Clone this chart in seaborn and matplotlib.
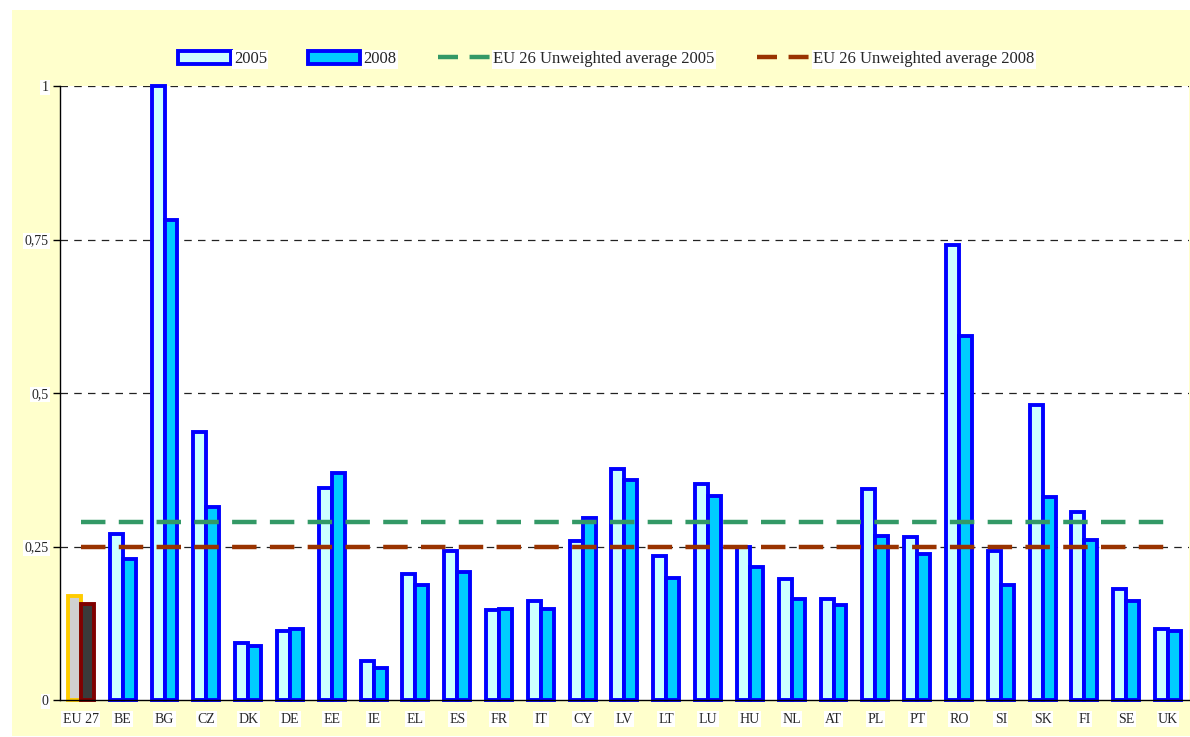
import pandas as pd
import numpy as np
import matplotlib
matplotlib.use("Agg")
import matplotlib.pyplot as plt
from matplotlib.patches import Patch, Rectangle
from matplotlib.lines import Line2D
from matplotlib.ticker import FixedLocator, FuncFormatter
import seaborn as sns

# data
countries = ["EU 27", "BE", "BG", "CZ", "DK", "DE", "EE", "IE", "EL", "ES", "FR", "IT", "CY",
             "LV", "LT", "LU", "HU", "NL", "AT", "PL", "PT", "RO", "SI", "SK", "FI", "SE", "UK"]
v2005 = [0.169, 0.270, 1.000, 0.436, 0.093, 0.113, 0.345, 0.063, 0.206, 0.243, 0.147, 0.161, 0.259,
         0.377, 0.234, 0.352, 0.250, 0.197, 0.165, 0.343, 0.266, 0.741, 0.243, 0.480, 0.306, 0.180, 0.116]
v2008 = [0.156, 0.230, 0.781, 0.314, 0.088, 0.115, 0.369, 0.052, 0.188, 0.208, 0.148, 0.148, 0.297,
         0.359, 0.198, 0.333, 0.217, 0.164, 0.154, 0.267, 0.237, 0.593, 0.188, 0.330, 0.260, 0.162, 0.113]
years = ["2005", "2008"]
avg_2005 = 0.290
avg_2008 = 0.249
y_ticks = [0, 0.25, 0.5, 0.75, 1]

df = pd.DataFrame({
    "country": countries * 2,
    "year": [years[0]] * len(countries) + [years[1]] * len(countries),
    "value": v2005 + v2008,
})

sns.set_style("white")
plt.rcParams["font.family"] = ["Liberation Serif", "DejaVu Serif"]

fig = plt.figure(figsize=(11.9, 7.37), dpi=100, facecolor="white")
fig.patches.append(Rectangle((0.010, 0.002), 0.990, 0.985, transform=fig.transFigure,
                             facecolor="#FFFFCC", edgecolor="none", zorder=-10))
ax = fig.add_axes([0.0504, 0.0502, 0.9487, 0.8331])
ax.set_facecolor("white")

sns.barplot(data=df, x="country", y="value", hue="year", order=countries,
            palette={"2005": "#CCFFFF", "2008": "#00CCFF"}, width=0.62,
            edgecolor="#0000FF", linewidth=2.8, saturation=1, legend=False,
            ax=ax, zorder=3)

for bar in ax.patches:
    bar.set_clip_on(False)

# EU 27 bars have their own colours
ax.containers[0][0].set_facecolor("#D0D0D0")
ax.containers[0][0].set_edgecolor("#FFCC00")
ax.containers[1][0].set_facecolor("#3A3A3A")
ax.containers[1][0].set_edgecolor("#800000")

# unweighted averages
n = len(countries)
ax.plot([0, n - 0.9], [avg_2005, avg_2005], color="#339966", lw=3.2,
        dashes=(5.5, 3), zorder=5, dash_capstyle="butt")
ax.plot([0, n - 0.9], [avg_2008, avg_2008], color="#993300", lw=3.2,
        dashes=(5.5, 3), zorder=5, dash_capstyle="butt")

ax.set_xlim(-0.5, n - 0.5)
ax.set_ylim(0, 1)
ax.set_yticks(y_ticks)
ax.yaxis.set_major_formatter(FuncFormatter(lambda v, p: ("%g" % v).replace(".", ",")))
for y in y_ticks[1:]:
    ax.axhline(y, color="#222222", lw=0.9, dashes=(6, 5), zorder=1)

ax.xaxis.set_minor_locator(FixedLocator(np.arange(-0.5, n, 1)))
ax.tick_params(axis="x", which="major", length=0, pad=9, labelsize=10)
ax.tick_params(axis="x", which="minor", length=5, width=1, color="black", direction="out")
ax.tick_params(axis="y", which="major", length=5, width=1, color="black", direction="out",
               left=True, labelsize=10, pad=3)
ax.set_xlabel("")
ax.set_ylabel("")

for side in ["top", "right"]:
    ax.spines[side].set_visible(False)
for side in ["left", "bottom"]:
    ax.spines[side].set_color("black")
    ax.spines[side].set_linewidth(1)
    ax.spines[side].set_zorder(6)

for lab in ax.get_xticklabels() + ax.get_yticklabels():
    lab.set_bbox(dict(facecolor="white", edgecolor="none", pad=1))

# legend, in two pieces to get the uneven spacing
handles = [
    Patch(facecolor="#CCFFFF", edgecolor="#0000FF", linewidth=2.8),
    Patch(facecolor="#00CCFF", edgecolor="#0000FF", linewidth=2.8),
    Line2D([], [], color="#339966", lw=3.2, dashes=(4.5, 2.6)),
    Line2D([], [], color="#993300", lw=3.2, dashes=(4.5, 2.6)),
]
labels = ["2005", "2008", "EU 26 Unweighted average 2005", "EU 26 Unweighted average 2008"]
leg_kw = dict(frameon=False, fontsize=12, handlelength=3.15, handleheight=0.75,
              handletextpad=0.2, columnspacing=2.45, borderpad=0, borderaxespad=0)
leg1 = fig.legend(handles[:3], labels[:3], loc="center left",
                  bbox_to_anchor=(178 / 1190, 0.9195), ncol=3, **leg_kw)
leg2 = fig.legend(handles[3:], labels[3:], loc="center left",
                  bbox_to_anchor=(757 / 1190, 0.9195), ncol=1, **leg_kw)
for leg in [leg1, leg2]:
    for t in leg.get_texts():
        t.set_bbox(dict(facecolor="white", edgecolor="none", pad=1))

plt.savefig("out.png", dpi=100, facecolor=fig.get_facecolor())
